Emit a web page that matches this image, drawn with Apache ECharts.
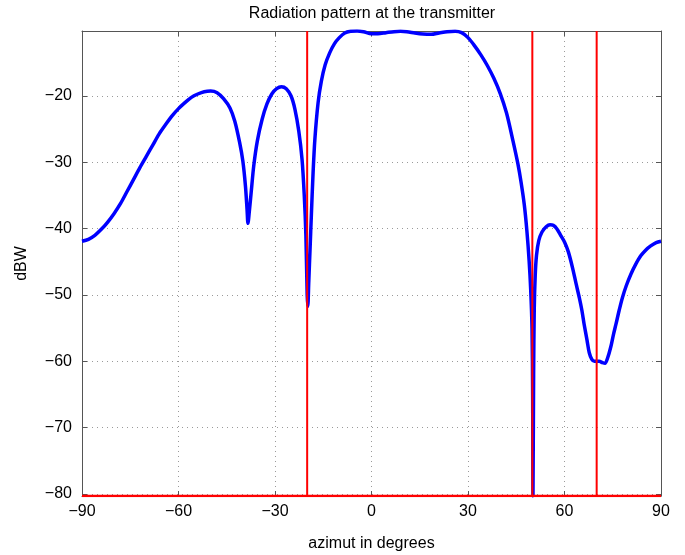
<!DOCTYPE html>
<html>
<head>
<meta charset="utf-8">
<script src="https://cdn.jsdelivr.net/npm/echarts@6/dist/echarts.min.js"></script>
<style>html,body{margin:0;padding:0;background:#fff;}#c{width:685px;height:555px;}</style>
</head>
<body>
<div id="c"></div>
<script>
// azimuth (degrees) and pattern level (dBW)
const azimuth = [-90,-88,-86,-84,-82,-80,-78,-76,-74,-72,-70,-68,-66,-64,-62,-60,-58,-56,-54,-52,-50,-48,-46,-44,-42.5,-41,-40,-39.2,-38.7,-38.4,-38,-37.4,-36.6,-35.5,-34,-32.5,-31,-29.5,-28,-26.5,-25,-23.8,-22.6,-21.6,-20.9,-20.4,-20,-19.8,-19.5,-19.1,-18.7,-18.2,-17.6,-16.6,-15.6,-14.4,-13,-11.5,-10,-8.3,-6.5,-4.5,-2.5,0,2,4.5,7,9,11,13.5,16,18.5,21,23.5,26,28,30,32,34,36,38,40,42,44,45.5,46.5,47.5,48.3,49,49.5,49.9,50.1,50.2,50.4,50.6,50.9,51.3,52,53,54.3,55.5,56.5,57.6,58.8,60,61.2,62.5,63.6,64.6,65.4,66.1,67,67.7,68.5,69.3,70,70.8,71.8,72.6,73.4,74.4,75.2,76,77,78,79.2,80.6,82,83.7,85.3,86.8,88.5,90];
const level = [-41.9,-41.6,-41,-40.1,-39,-37.7,-36.2,-34.4,-32.6,-30.8,-29.1,-27.4,-25.7,-24.3,-23,-21.9,-21,-20.2,-19.7,-19.35,-19.25,-19.5,-20.4,-21.8,-23.8,-27,-29.8,-33.5,-37,-39.2,-37.5,-34.5,-30.5,-26.8,-23.5,-21.2,-19.7,-18.9,-18.6,-18.9,-20,-22,-25.3,-29.5,-35,-41,-50,-51.7,-48,-43,-38,-32,-26.5,-21,-17.8,-15.3,-13.5,-12.1,-11.2,-10.5,-10.25,-10.2,-10.3,-10.6,-10.6,-10.45,-10.3,-10.25,-10.3,-10.5,-10.65,-10.7,-10.5,-10.3,-10.25,-10.45,-11.2,-12.4,-13.8,-15.4,-17.3,-19.6,-22.6,-26.8,-30.2,-33,-36.4,-40.3,-44.8,-49.3,-55,-65,-80.3,-62,-52,-47,-44,-41.8,-40.5,-39.7,-39.4,-39.5,-40,-41,-42,-43.5,-45.9,-48.3,-50.4,-52.3,-54.4,-56.8,-58.7,-59.7,-60,-60,-60,-60.2,-60.3,-59.5,-57.8,-56,-54.4,-52.3,-50.4,-48.6,-46.9,-45.5,-44.1,-43.2,-42.6,-42.1,-41.9];
// red marker lines
const markerAzimuths = [-20, 50, 70];
const floorLevel = -80.3;
const yRange = [-80.3, -10.2];
const xTicks = [-90, -60, -30, 0, 30, 60, 90];

const FONT = 'Liberation Sans';
const FS = 16;
const minus = v => String(v).replace('-', '\u2212');

const series = [{
  type: 'line',
  data: azimuth.map((a, i) => [a, level[i]]),
  showSymbol: false,
  smooth: 0.3,
  lineStyle: { color: '#0000ff', width: 3.5 },
  z: 3
}];
markerAzimuths.forEach(a => series.push({
  type: 'line',
  data: [[a, yRange[0]], [a, yRange[1]]],
  showSymbol: false,
  lineStyle: { color: '#ff0000', width: 2 },
  z: 4
}));
series.push({
  type: 'line',
  data: [[xTicks[0], floorLevel], [xTicks[xTicks.length - 1], floorLevel]],
  showSymbol: false,
  lineStyle: { color: '#ff0000', width: 2.5 },
  z: 4
});

const gridLine = { show: true, lineStyle: { color: '#9a9a9a', type: [1, 4], width: 1 } };
const axisLine = { show: true, onZero: false, lineStyle: { color: '#555', width: 1 } };
const tick = { show: true, inside: true, length: 5, lineStyle: { color: '#555' } };

const chart = echarts.init(document.getElementById('c'), null, { renderer: 'canvas' });
chart.setOption({
  animation: false,
  backgroundColor: '#fff',
  title: {
    text: 'Radiation pattern at the transmitter',
    left: 372, top: 6, padding: 0, textAlign: 'center',
    textStyle: { fontFamily: FONT, fontSize: FS, fontWeight: 'normal', color: '#000' }
  },
  grid: { left: 82, right: 24, top: 31, bottom: 59, containLabel: false, outerBoundsMode: 'none' },
  xAxis: [{
    type: 'value', min: -90, max: 90, interval: 30,
    name: 'azimut in degrees', nameLocation: 'middle', nameGap: 40,
    nameTextStyle: { fontFamily: FONT, fontSize: FS, color: '#000' },
    axisLine: axisLine, axisTick: tick, splitLine: gridLine,
    axisLabel: { fontFamily: FONT, fontSize: FS, color: '#000', margin: 8, formatter: minus }
  }, {
    type: 'value', min: -90, max: 90, interval: 30, position: 'top',
    axisLine: axisLine, axisTick: tick, splitLine: { show: false }, axisLabel: { show: false }
  }],
  yAxis: [{
    type: 'value', min: yRange[0], max: yRange[1], splitNumber: 7,
    name: 'dBW', nameLocation: 'middle', nameGap: 52,
    nameTextStyle: { fontFamily: FONT, fontSize: FS, color: '#000' },
    axisLine: axisLine, axisTick: tick, splitLine: gridLine,
    axisLabel: {
      fontFamily: FONT, fontSize: FS, color: '#000', margin: 10,
      showMinLabel: false, showMaxLabel: false,
      formatter: v => (Math.abs(v % 10) < 1e-6 ? minus(v) : '')
    }
  }, {
    type: 'value', min: yRange[0], max: yRange[1], splitNumber: 7, position: 'right',
    axisLine: axisLine, axisTick: tick, splitLine: { show: false }, axisLabel: { show: false }
  }],
  series: series
});
</script>
</body>
</html>
